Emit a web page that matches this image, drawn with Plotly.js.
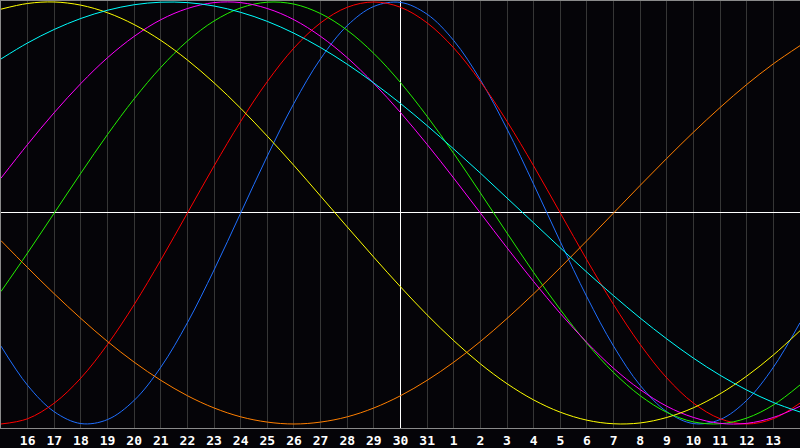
<!DOCTYPE html>
<html>
<head>
<meta charset="utf-8">
<script src="https://cdn.plot.ly/plotly-3.0.1.min.js"></script>
<style>
html,body{margin:0;padding:0;background:#050408;}
#chart{width:800px;height:448px;}
</style>
</head>
<body>
<div id="chart"></div>
<script>
// Day offsets relative to the 30th (centre line)
var days = [-15,-14,-13,-12,-11,-10,-9,-8,-7,-6,-5,-4,-3,-2,-1,0,1,2,3,4,5,6,7,8,9,10,11,12,13,14,15];
var tickDays = [-14,-13,-12,-11,-10,-9,-8,-7,-6,-5,-4,-3,-2,-1,0,1,2,3,4,5,6,7,8,9,10,11,12,13,14];
var tickLabels = ["16","17","18","19","20","21","22","23","24","25","26","27","28","29","30","31","1","2","3","4","5","6","7","8","9","10","11","12","13"];

var physical = [-0.631,-0.817,-0.942,-0.998,-0.979,-0.888,-0.731,-0.520,-0.270,0,0.270,0.520,0.731,0.888,0.979,0.998,0.942,0.817,0.631,0.398,0.136,-0.136,-0.398,-0.631,-0.817,-0.942,-0.998,-0.979,-0.888,-0.731,-0.520];
var emotional = [-1,-0.975,-0.901,-0.782,-0.623,-0.434,-0.223,0,0.223,0.434,0.623,0.782,0.901,0.975,1,0.975,0.901,0.782,0.623,0.434,0.223,0,-0.223,-0.434,-0.623,-0.782,-0.901,-0.975,-1,-0.975,-0.901];
var intellectual = [-0.372,-0.189,0,0.189,0.372,0.541,0.690,0.815,0.910,0.972,0.999,0.990,0.945,0.866,0.756,0.618,0.458,0.282,0.095,-0.095,-0.282,-0.458,-0.618,-0.756,-0.866,-0.945,-0.990,-0.999,-0.972,-0.910,-0.815];
var intuitive = [0.165,0.325,0.476,0.614,0.736,0.837,0.916,0.969,0.997,0.997,0.969,0.916,0.837,0.736,0.614,0.476,0.325,0.165,0,-0.165,-0.325,-0.476,-0.614,-0.736,-0.837,-0.916,-0.969,-0.997,-0.997,-0.969,-0.916];
var aesthetic = [0.966,0.993,1.000,0.985,0.949,0.893,0.818,0.725,0.617,0.496,0.364,0.225,0.080,-0.066,-0.210,-0.350,-0.483,-0.605,-0.715,-0.809,-0.886,-0.944,-0.982,-0.999,-0.995,-0.969,-0.923,-0.857,-0.773,-0.673,-0.558];
var awareness = [-0.131,-0.259,-0.383,-0.5,-0.609,-0.707,-0.793,-0.866,-0.924,-0.966,-0.991,-1,-0.991,-0.966,-0.924,-0.866,-0.793,-0.707,-0.609,-0.5,-0.383,-0.259,-0.131,0,0.131,0.259,0.383,0.5,0.609,0.707,0.793];
var spiritual = [0.730,0.806,0.870,0.922,0.961,0.987,0.999,0.997,0.981,0.951,0.908,0.852,0.784,0.705,0.616,0.519,0.414,0.303,0.189,0.071,-0.047,-0.165,-0.281,-0.392,-0.498,-0.597,-0.688,-0.769,-0.839,-0.898,-0.943];

var seriesNames = ["Physical","Emotional","Intellectual","Intuitive","Aesthetic","Awareness","Spiritual"];
var seriesValues = [physical, emotional, intellectual, intuitive, aesthetic, awareness, spiritual];
var seriesColors = ["#1f6fff","#ff0000","#22f000","#ff00ff","#ffff00","#ff7f00","#00ffff"];

var traces = [];
for (var i = 0; i < seriesNames.length; i++) {
  traces.push({
    x: days, y: seriesValues[i], name: seriesNames[i],
    type: "scatter", mode: "lines",
    line: {color: seriesColors[i], width: 1, shape: "spline", smoothing: 1},
    hoverinfo: "skip"
  });
}

var layout = {
  width: 800, height: 448,
  margin: {l: 1, r: 0, t: 1, b: 20, pad: 0},
  paper_bgcolor: "#050408",
  plot_bgcolor: "#050408",
  showlegend: false,
  xaxis: {
    range: [-15, 15], fixedrange: true,
    tickvals: tickDays, ticktext: tickLabels,
    showgrid: true, gridcolor: "#363636", gridwidth: 1,
    zeroline: true, zerolinecolor: "#ffffff", zerolinewidth: 1,
    showline: true, mirror: true, linecolor: "#8a8a8a", linewidth: 1,
    ticks: "", ticklen: 0,
    tickfont: {family: "DejaVu Sans Mono, Liberation Mono, monospace", size: 13, color: "#ffffff", weight: "bold"}
  },
  yaxis: {
    range: [-1.019, 1.0047], fixedrange: true,
    showgrid: false, showticklabels: false, ticks: "",
    zeroline: true, zerolinecolor: "#ffffff", zerolinewidth: 1,
    showline: true, mirror: false, linecolor: "#8a8a8a", linewidth: 1
  }
};

Plotly.newPlot("chart", traces, layout, {staticPlot: true, displayModeBar: false});
</script>
</body>
</html>
